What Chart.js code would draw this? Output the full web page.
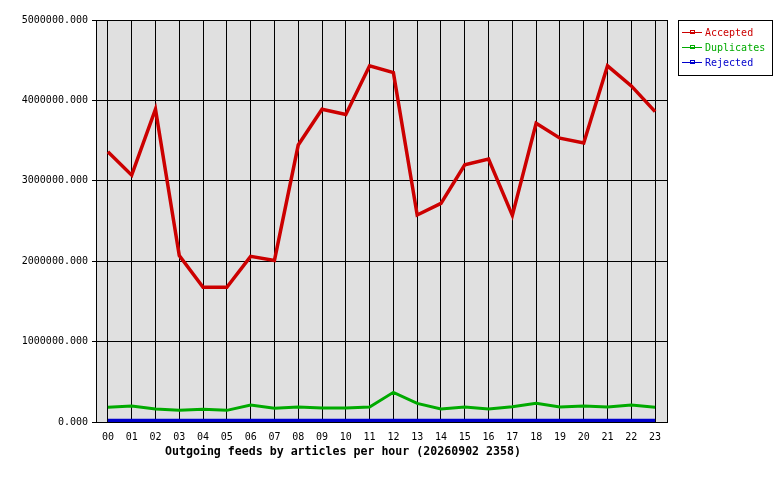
<!DOCTYPE html>
<html>
<head>
<meta charset="utf-8">
<script src="https://cdn.jsdelivr.net/npm/chart.js@4.4.1/dist/chart.umd.min.js"></script>
<style>
  html, body { margin: 0; padding: 0; background: #fff; }
  #wrap { width: 780px; height: 480px; }
</style>
</head>
<body>
<div id="wrap"><canvas id="feeds" width="780" height="480"></canvas></div>
<script>
// --- data ---
const HOURS = ['00','01','02','03','04','05','06','07','08','09','10','11',
               '12','13','14','15','16','17','18','19','20','21','22','23'];
const ACCEPTED = [3360000, 3070000, 3890000, 2070000, 1675000, 1675000, 2060000, 2010000,
                  3445000, 3890000, 3825000, 4430000, 4345000, 2575000, 2720000, 3200000,
                  3270000, 2570000, 3715000, 3530000, 3470000, 4430000, 4180000, 3860000];
const DUPLICATES = [183000, 199000, 162000, 145000, 158000, 145000, 211000, 170000,
                    187000, 174000, 174000, 187000, 369000, 232000, 162000, 187000,
                    162000, 190000, 232000, 187000, 199000, 187000, 211000, 183000];
const REJECTED = [20000, 20000, 20000, 20000, 20000, 20000, 20000, 20000,
                  20000, 20000, 20000, 20000, 20000, 20000, 20000, 20000,
                  20000, 20000, 20000, 20000, 20000, 20000, 20000, 20000];
const Y_TICKS = [0, 1000000, 2000000, 3000000, 4000000, 5000000];
const TITLE = 'Outgoing feeds by articles per hour (20260902 2358)';

const MONO = '"DejaVu Sans Mono", "Liberation Mono", monospace';

// plot background, frame, legend box and caption
const decorPlugin = {
    id: 'decor',
    beforeDraw(chart) {
        const { ctx, chartArea: a } = chart;
        ctx.save();
        ctx.fillStyle = '#e0e0e0';
        ctx.fillRect(a.left, a.top, a.right - a.left, a.bottom - a.top);
        ctx.restore();
    },
    afterDraw(chart) {
        const { ctx, chartArea: a } = chart;
        ctx.save();
        ctx.strokeStyle = '#000';
        ctx.lineWidth = 1;
        ctx.strokeRect(Math.round(a.left) + 0.5, Math.round(a.top) + 0.5,
                       Math.round(a.right - a.left), Math.round(a.bottom - a.top));

        // legend
        const lx = a.right + 11, ly = a.top;
        ctx.fillStyle = '#fff';
        ctx.fillRect(lx, ly, 94, 55);
        ctx.strokeRect(lx + 0.5, ly + 0.5, 94, 55);
        ctx.font = '10px ' + MONO;
        ctx.textBaseline = 'middle';
        chart.data.datasets.forEach((ds, i) => {
            const y = ly + 12.5 + i * 15;
            ctx.strokeStyle = ds.borderColor;
            ctx.lineWidth = 1;
            ctx.beginPath();
            ctx.moveTo(lx + 4, y);
            ctx.lineTo(lx + 24, y);
            ctx.stroke();
            ctx.strokeRect(lx + 12.5, y - 2, 4, 3);
            ctx.fillStyle = ds.borderColor;
            ctx.fillText(ds.label, lx + 27, y + 1);
        });

        // caption under the axis
        ctx.fillStyle = '#000';
        ctx.font = 'bold 11.6px ' + MONO;
        ctx.textBaseline = 'middle';
        ctx.textAlign = 'left';
        ctx.fillText(TITLE, a.left + 69, a.bottom + 30);
        ctx.restore();
    }
};

const ctx = document.getElementById('feeds').getContext('2d');
new Chart(ctx, {
    type: 'line',
    data: {
        labels: HOURS,
        datasets: [{
            label: 'Accepted',
            data: ACCEPTED,
            borderColor: '#cc0000',
            borderWidth: 3.5
        }, {
            label: 'Duplicates',
            data: DUPLICATES,
            borderColor: '#00aa00',
            borderWidth: 3
        }, {
            label: 'Rejected',
            data: REJECTED,
            borderColor: '#0000cc',
            borderWidth: 3.5
        }]
    },
    options: {
        responsive: false,
        animation: false,
        devicePixelRatio: 1,
        layout: { padding: { top: 20, right: 113, bottom: 0, left: 0 } },
        elements: {
            line: { tension: 0, fill: false, borderCapStyle: 'butt' },
            point: { radius: 0, hoverRadius: 0 }
        },
        scales: {
            x: {
                offset: true,
                grid: { color: '#000', lineWidth: 1, drawTicks: false, offset: false },
                border: { color: '#000', width: 1 },
                ticks: { color: '#000', font: { family: MONO, size: 10 }, padding: 9,
                         maxRotation: 0, autoSkip: false },
                afterFit(scale) { scale.height = 58; }
            },
            y: {
                min: Y_TICKS[0],
                max: Y_TICKS[Y_TICKS.length - 1],
                afterBuildTicks(scale) { scale.ticks = Y_TICKS.map(v => ({ value: v })); },
                grid: { color: '#000', lineWidth: 1, tickLength: 4 },
                border: { color: '#000', width: 1 },
                ticks: { color: '#000', font: { family: MONO, size: 10 }, padding: 4,
                         callback: v => Number(v).toFixed(3) },
                afterFit(scale) { scale.width = 96; }
            }
        },
        plugins: {
            legend: { display: false },
            tooltip: { enabled: false }
        }
    },
    plugins: [decorPlugin]
});
</script>
</body>
</html>
